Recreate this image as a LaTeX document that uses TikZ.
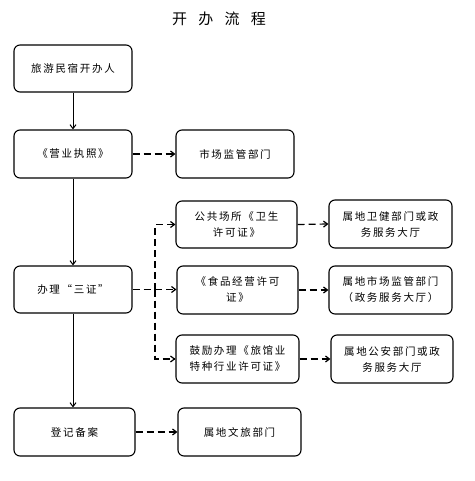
\documentclass[tikz,border=0pt]{standalone}
\usepackage{fontspec}
\newfontfamily\cjk[LetterSpace=16]{Noto Sans CJK SC}
\newfontfamily\cjktitle{Noto Sans CJK SC}
\usetikzlibrary{arrows.meta}
\begin{document}
\begin{tikzpicture}[x=1pt,y=-1pt,
  box/.style={draw, line width=1.1pt, rounded corners=6pt, align=center, inner sep=0pt, font=\cjk\fontsize{10.5}{16}\selectfont},
  solidarrow/.style={line width=1pt, -{Straight Barb[length=4pt,width=6pt]}},
  dasharrow/.style={line width=1.2pt, dash pattern=on 7pt off 4pt, -{Straight Barb[length=4pt,width=6pt]}},
  dashline/.style={line width=1.2pt, dash pattern=on 7pt off 4pt}]
\useasboundingbox (0,0) rectangle (474,481);
\node[font=\cjktitle\fontsize{15}{16}\selectfont] (title) at (219,19) {开\hspace{0.75em}办\hspace{0.75em}流\hspace{0.75em}程};
\node[box, minimum width=118pt, minimum height=47pt] (b1) at (73,68.5) {旅游民宿开办人};
\node[box, minimum width=118pt, minimum height=48pt] (b2) at (73,154) {《营业执照》};
\node[box, minimum width=118pt, minimum height=48pt] (m1) at (235,154) {市场监管部门};
\node[box, minimum width=118pt, minimum height=47pt] (b3) at (73,289.5) {办理“三证”};
\node[box, minimum width=121pt, minimum height=47pt] (pa) at (236.5,224.5) {公共场所《卫生\\许可证》};
\node[box, minimum width=121pt, minimum height=48pt] (pb) at (237.5,290) {《食品经营许可\\证》};
\node[box, minimum width=123pt, minimum height=48pt] (pc) at (237.5,359) {鼓励办理《旅馆业\\特种行业许可证》};
\node[box, minimum width=123pt, minimum height=48pt] (ra) at (390.5,224) {属地卫健部门或政\\务服务大厅};
\node[box, minimum width=123pt, minimum height=48pt] (rb) at (390.5,290) {属地市场监管部门\\（政务服务大厅）};
\node[box, minimum width=122pt, minimum height=48pt] (rc) at (392,359) {属地公安部门或政\\务服务大厅};
\node[box, minimum width=121pt, minimum height=48pt] (b4) at (74.5,432) {登记备案};
\node[box, minimum width=123pt, minimum height=48pt] (m4) at (239.5,432) {属地文旅部门};
\draw[solidarrow] (b1.south) -- (b2.north);
\draw[solidarrow] (b2.south) -- (b3.north);
\draw[solidarrow] (b3.south) -- (b4.north-|b3.south);
\draw[dasharrow] (b2.east) -- (m1.west);
\coordinate (tj) at (155,289.5);
\draw[dashline] (b3.east) -- (tj);
\draw[dasharrow] (tj) -- (pb.west|-tj);
\draw[dasharrow] (tj) |- (pa.west);
\draw[dasharrow] (tj) |- (pc.west);
\draw[dasharrow] (pa.east) -- (ra.west);
\draw[dasharrow] (pb.east) -- (rb.west);
\draw[dasharrow] (pc.east) -- (rc.west);
\draw[dasharrow] (b4.east) -- (m4.west);
\end{tikzpicture}
\end{document}
